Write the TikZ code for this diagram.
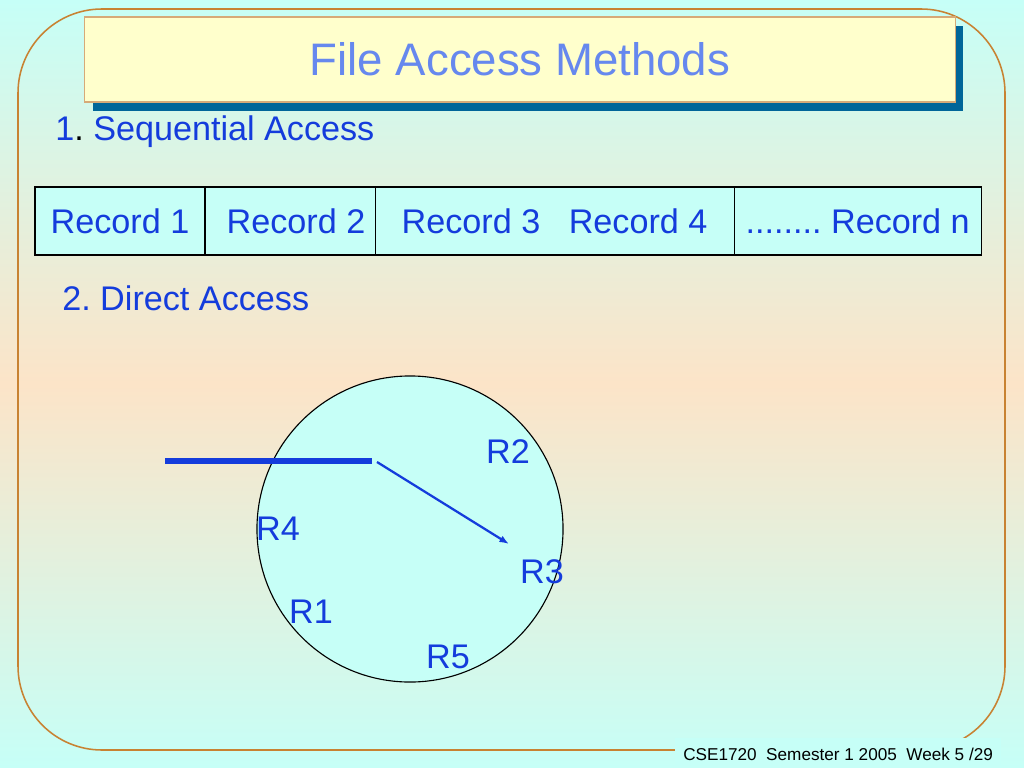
\documentclass[tikz,border=0pt]{standalone}
\usepackage{fontspec}
\setmainfont{Liberation Sans}
\frenchspacing
\usetikzlibrary{arrows.meta,positioning}
\definecolor{SlideCyan}{RGB}{198,255,247}
\definecolor{SlidePeach}{RGB}{252,228,200}
\definecolor{FrameBrown}{RGB}{200,130,50}
\definecolor{TitleYellow}{RGB}{255,255,204}
\definecolor{TitleEdge}{RGB}{214,170,120}
\definecolor{ShadowBlue}{RGB}{0,102,153}
\definecolor{TitleBlue}{RGB}{102,136,238}
\definecolor{TextBlue}{RGB}{20,60,220}
\tikzset{
  bodytext/.style={text=TextBlue,inner sep=0pt,font=\fontsize{24.3}{29}\selectfont},
  cell/.style={draw,fill=SlideCyan,line width=0.8pt,outer sep=0pt,inner sep=0pt,
    minimum height=1.7cm,text=TextBlue,font=\fontsize{24.3}{29}\selectfont}
}

\begin{document}
\begin{tikzpicture}[x=0.025cm,y=-0.025cm,>=Latex]
      \useasboundingbox (0,0) rectangle (1024,768);
      \shade[top color=SlideCyan,bottom color=SlideCyan,middle color=SlidePeach] (0,0) rectangle (1024,768);
      \draw[FrameBrown,line width=1.1pt,rounded corners=2.1cm] (18,9) rectangle (1005,750);
      \fill[ShadowBlue] (93,26) rectangle (963,111);
      \node[draw=TitleEdge,fill=TitleYellow,line width=0.8pt,minimum width=21.75cm,minimum height=2.125cm,
        text=TitleBlue,font=\fontsize{32.4}{38}\selectfont] (title) at (520,59.5) {File Access Methods};
      \node[bodytext,anchor=base west] (seq) at (55,141) {1\textcolor{black}{.} Sequential Access};
      \node[cell,minimum width=4.25cm] (rec1) at (120,221) {Record 1};
      \node[cell,minimum width=4.25cm,right=0pt of rec1] (rec2) {\hspace{0.3cm}Record 2};
      \node[cell,minimum width=8.975cm,right=0pt of rec2] (rec34) {Record 3\ \ \ Record 4};
      \node[cell,minimum width=6.175cm,right=0pt of rec34] (recn) {........ Record n};
      \node[bodytext,anchor=base west] (direct) at (62,310) {2. Direct Access};
      \node[circle,draw,fill=SlideCyan,line width=0.8pt,inner sep=0pt,minimum size=7.65cm] (disk) at (410,529) {};
      \coordinate (armend) at (165,461);
      \coordinate (armhead) at (372,461);
      \coordinate (ptrstart) at (377,462);
      \coordinate (ptrtip) at (509,544);
      \draw[TextBlue,line width=4.2pt] (armend)--(armhead);
      \draw[-{Latex[length=2.4mm,width=1.8mm]},TextBlue,line width=1.6pt] (ptrstart)--(ptrtip);
      \node[bodytext] (r2) at (508,452) {R2};
      \node[bodytext] (r4) at (278,529) {R4};
      \node[bodytext] (r3) at (542,572) {R3};
      \node[bodytext] (r1) at (311,612) {R1};
      \node[bodytext] (r5) at (448,657) {R5};
      \node[fill=SlideCyan,inner xsep=0.2cm,inner ysep=0.25cm,anchor=base west,
        font=\fontsize{12.2}{14}\selectfont] (footer) at (675,760)
        {CSE1720\ \ Semester 1 2005\ \ Week 5 /29};
    \end{tikzpicture}
\end{document}
